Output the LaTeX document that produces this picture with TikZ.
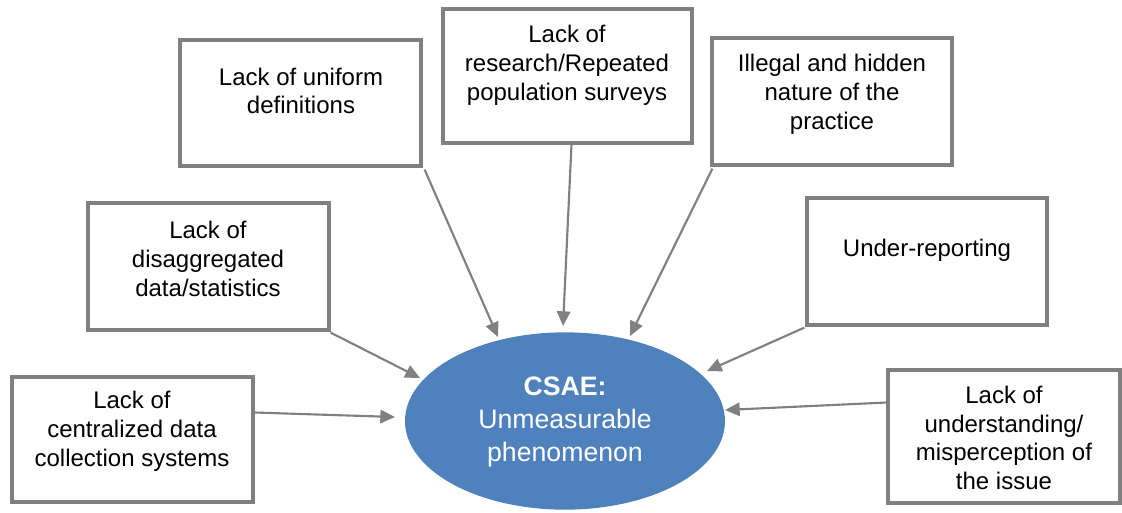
\documentclass[tikz,border=0pt]{standalone}
\usepackage{fontspec}
\setmainfont{Liberation Sans}
\usetikzlibrary{calc,arrows.meta,shapes.geometric}
\definecolor{boxgray}{HTML}{808080}
\definecolor{ellblue}{HTML}{4F81BD}
\tikzset{
  boxst/.style={draw=boxgray, line width=2.4pt, fill=white, rectangle, inner sep=0pt},
  txt/.style={align=center, inner sep=0pt, font=\fontsize{18}{21.6}\selectfont, text=black},
  arr/.style={draw=boxgray, line width=1.6pt, -{Triangle[length=11pt,width=10pt]}},
}
\begin{document}
\begin{tikzpicture}[x=0.75pt,y=-0.75pt]
\useasboundingbox (0,0) rectangle (1122,512);
% ellipse
\node[ellipse, fill=ellblue, draw=none, minimum width=240pt, minimum height=133pt, inner sep=0pt] (e) at (565,421) {};
\node[align=center, inner sep=0pt, text=white, font=\fontsize{20}{24.5}\selectfont] (et) at (565,422) {\textbf{CSAE:}\\Unmeasurable\\phenomenon};
% boxes
\node[boxst, minimum width=180.75pt, minimum height=94.5pt] (b1) at (300.5,103) {};
\node[txt] (t1) at (301,91) {Lack of uniform\\definitions};
\node[boxst, minimum width=186.75pt, minimum height=100.5pt] (b2) at (567.5,76) {};
\node[txt] (t2) at (567,65) {Lack of\\research/Repeated\\population surveys};
\node[boxst, minimum width=180pt, minimum height=95.25pt] (b3) at (832,101.5) {};
\node[txt] (t3) at (832,94) {Illegal and hidden\\nature of the\\practice};
\node[boxst, minimum width=180.75pt, minimum height=95.25pt] (b4) at (208.5,266.5) {};
\node[txt] (t4) at (208,259) {Lack of\\disaggregated\\data/statistics};
\node[boxst, minimum width=180pt, minimum height=95.25pt] (b5) at (927,261.5) {};
\node[txt] (t5) at (927,250) {Under-reporting};
\node[boxst, minimum width=180.75pt, minimum height=93.75pt] (b6) at (132.5,439.5) {};
\node[txt] (t6) at (132,431) {Lack of\\centralized data\\collection systems};
\node[boxst, minimum width=174pt, minimum height=99.75pt] (b7) at (1004,436.5) {};
\node[txt] (t7) at (1004,438) {Lack of\\understanding/\\misperception of\\the issue};
% arrows
\draw[arr] ($(b1.south east)+(2,2)$) -- ($(e.center)+(-67,-84)$);
\draw[arr] ($(b2.south)+(4,0)$) -- ($(e.center)+(-2,-95)$);
\draw[arr] ($(b3.south west)+(2,2)$) -- ($(e.center)+(65,-85)$);
\draw[arr] ($(b4.south east)+(0,1)$) -- ($(e.center)+(-145,-43)$);
\draw[arr] ($(b5.south west)+(-1,1)$) -- ($(e.center)+(142,-50)$);
\draw[arr] ($(b6.east)+(0,-27)$) -- ($(e.center)+(-170,-4)$);
\draw[arr] ($(b7.west)+(0,-34)$) -- ($(e.center)+(160,-11)$);
\end{tikzpicture}
\end{document}
